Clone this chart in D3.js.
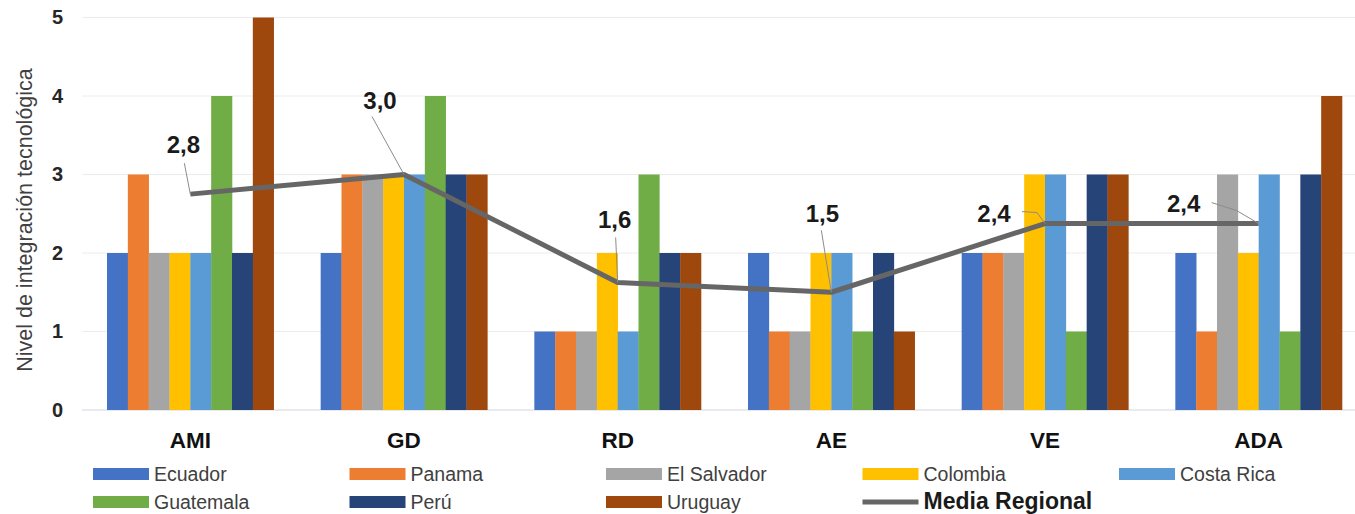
<!DOCTYPE html>
<html>
<head>
<meta charset="utf-8">
<script src="https://cdn.jsdelivr.net/npm/d3@7"></script>
<style>
  body { margin: 0; background: #fff; }
  text { font-family: "Liberation Sans", Arial, sans-serif; }
</style>
</head>
<body>
<svg id="my-svg"></svg>
<script>
// data
let categories = ['AMI', 'GD', 'RD', 'AE', 'VE', 'ADA'];
let countries = ['Ecuador', 'Panama', 'El Salvador', 'Colombia', 'Costa Rica', 'Guatemala', 'Perú', 'Uruguay'];
let ecuador    = [2, 2, 1, 2, 2, 2];
let panama     = [3, 3, 1, 1, 2, 1];
let elSalvador = [2, 3, 1, 1, 2, 3];
let colombia   = [2, 3, 2, 2, 3, 2];
let costaRica  = [2, 3, 1, 2, 3, 3];
let guatemala  = [4, 4, 3, 1, 1, 1];
let peru       = [2, 3, 2, 2, 3, 3];
let uruguay    = [5, 3, 2, 1, 3, 4];
let mediaRegional = [2.75, 3.0, 1.625, 1.5, 2.375, 2.375];
let mediaLabels = ['2,8', '3,0', '1,6', '1,5', '2,4', '2,4'];
let yTicks = [0, 1, 2, 3, 4, 5];

let seriesValues = [ecuador, panama, elSalvador, colombia, costaRica, guatemala, peru, uruguay];
let colors = ['#4472C4', '#ED7D31', '#A5A5A5', '#FFC000', '#5B9BD5', '#70AD47', '#264478', '#9E480E'];

// label placement relative to the line point: text (dx, dy) and leader path points
let labelSpots = [
  { dx: -7,  dy: -41, leader: [[-6, -31], [0, 0]] },
  { dx: -24, dy: -66, leader: [[-32, -58], [0, 0]] },
  { dx: -3,  dy: -54, leader: [[-2, -45], [0, 0]] },
  { dx: -9,  dy: -70, leader: [[-10, -62], [0, 0]] },
  { dx: -51, dy: -2,  leader: [[-23, -12], [-8, -11], [0, 0]] },
  { dx: -75, dy: -12, leader: [[-47, -21], [-22, -13], [0, 0]] }
];

let svg = d3.select('#my-svg')
  .attr('width', 1355)
  .attr('height', 514);

let x = d3.scaleBand()
  .domain(categories)
  .range([82, 1367])
  .paddingInner(0.22)
  .paddingOuter(0.117);

let xSub = d3.scaleBand()
  .domain(countries)
  .range([0, x.bandwidth()]);

let y = d3.scaleLinear()
  .domain([0, 5])
  .range([410, 17.5]);

// gridlines
svg.append('g')
  .selectAll('line')
  .data(yTicks)
  .enter().append('line')
    .attr('x1', 82)
    .attr('x2', 1355)
    .attr('y1', d => y(d))
    .attr('y2', d => y(d))
    .attr('stroke', d => d === 0 ? '#d0d8e0' : '#ececec')
    .attr('stroke-width', 1);

// y axis labels
let yAxis = svg.append('g')
  .attr('transform', 'translate(63,0)')
  .call(d3.axisLeft(y).tickValues(yTicks).tickFormat(d3.format('d')).tickSize(0).tickPadding(0));
yAxis.select('.domain').remove();
yAxis.selectAll('text')
  .attr('font-size', 20)
  .attr('font-weight', 'bold')
  .attr('fill', '#262626')
  .attr('font-family', '"Liberation Sans", Arial, sans-serif');

svg.append('text')
  .attr('transform', 'translate(32,220) rotate(-90)')
  .attr('text-anchor', 'middle')
  .attr('font-size', 21.5)
  .attr('fill', '#404040')
  .text('Nivel de integración tecnológica');

// bars
let groups = svg.append('g')
  .selectAll('g.cat')
  .data(categories)
  .enter().append('g')
    .attr('class', 'cat')
    .attr('transform', d => 'translate(' + x(d) + ',0)');

groups.selectAll('rect')
  .data((c, ci) => countries.map((name, si) => ({ name, si, v: seriesValues[si][ci] })))
  .enter().append('rect')
    .attr('x', d => xSub(d.name))
    .attr('width', xSub.bandwidth() + 0.3)
    .attr('y', d => y(d.v))
    .attr('height', d => y(0) - y(d.v))
    .attr('fill', d => colors[d.si]);

// x axis labels
let xAxis = svg.append('g')
  .attr('transform', 'translate(0,432)')
  .call(d3.axisBottom(x).tickSize(0).tickPadding(0));
xAxis.select('.domain').remove();
xAxis.selectAll('text')
  .attr('font-size', 22.5)
  .attr('font-weight', 'bold')
  .attr('fill', '#111')
  .attr('font-family', '"Liberation Sans", Arial, sans-serif');

// media regional line
let linePoints = categories.map((c, i) => [x(c) + x.bandwidth() / 2, y(mediaRegional[i])]);

svg.append('path')
  .datum(linePoints)
  .attr('d', d3.line())
  .attr('fill', 'none')
  .attr('stroke', '#666666')
  .attr('stroke-width', 5)
  .attr('stroke-linejoin', 'round');

// leader lines and labels
labelSpots.forEach((s, i) => {
  let p = linePoints[i];
  svg.append('path')
    .attr('d', d3.line()(s.leader.map(q => [p[0] + q[0], p[1] + q[1]])))
    .attr('fill', 'none')
    .attr('stroke', '#8c8c8c')
    .attr('stroke-width', 1);
  svg.append('text')
    .attr('x', p[0] + s.dx)
    .attr('y', p[1] + s.dy)
    .attr('text-anchor', 'middle')
    .attr('font-size', 24)
    .attr('font-weight', 'bold')
    .attr('fill', '#1a1a1a')
    .text(mediaLabels[i]);
});

// legend
let legendItems = countries.map((name, i) => ({ name, color: colors[i], type: 'bar' }));
legendItems.push({ name: 'Media Regional', color: '#666666', type: 'line' });

let legend = svg.append('g')
  .selectAll('g.leg')
  .data(legendItems)
  .enter().append('g')
    .attr('class', 'leg')
    .attr('transform', (d, i) => 'translate(' + (93 + (i % 5) * 256.5) + ',' + (474 + Math.floor(i / 5) * 28) + ')');

legend.filter(d => d.type === 'bar').append('rect')
  .attr('x', 0)
  .attr('y', -6)
  .attr('width', 56)
  .attr('height', 12)
  .attr('fill', d => d.color);

legend.filter(d => d.type === 'line').append('line')
  .attr('x1', 0)
  .attr('x2', 56)
  .attr('y1', 0)
  .attr('y2', 0)
  .attr('stroke', d => d.color)
  .attr('stroke-width', 5);

legend.append('text')
  .attr('x', 61)
  .attr('y', 7)
  .attr('font-size', d => d.type === 'line' ? 23 : 19.5)
  .attr('font-weight', d => d.type === 'line' ? 'bold' : 'normal')
  .attr('fill', d => d.type === 'line' ? '#1a1a1a' : '#404040')
  .text(d => d.name);
</script>
</body>
</html>
